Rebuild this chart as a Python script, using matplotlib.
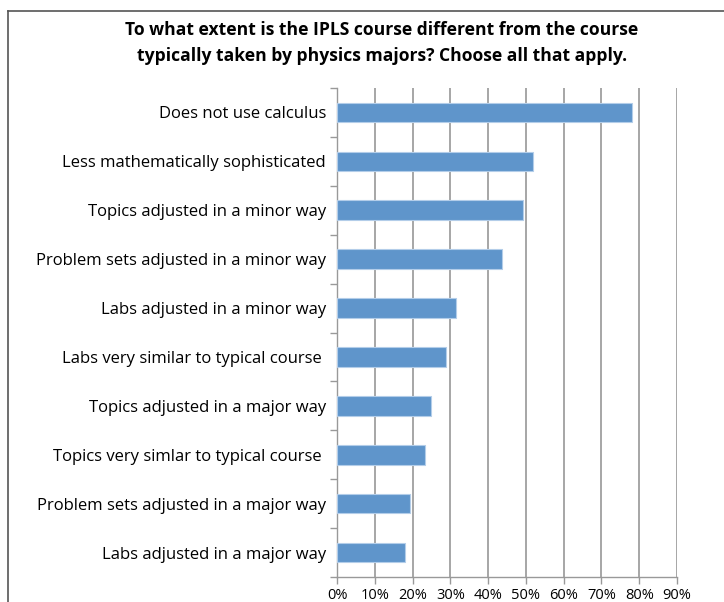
import matplotlib
matplotlib.use("Agg")
import matplotlib.pyplot as plt
from matplotlib.lines import Line2D
from matplotlib.ticker import FixedLocator, PercentFormatter

categories = [
    "Does not use calculus",
    "Less mathematically sophisticated",
    "Topics adjusted in a minor way",
    "Problem sets adjusted in a minor way",
    "Labs adjusted in a minor way",
    "Labs very similar to typical course ",
    "Topics adjusted in a major way",
    "Topics very simlar to typical course ",
    "Problem sets adjusted in a major way",
    "Labs adjusted in a major way",
]
values = [78.1, 52.0, 49.3, 43.8, 31.6, 28.8, 24.8, 23.4, 19.4, 17.9]
xticks = [0, 10, 20, 30, 40, 50, 60, 70, 80, 90]
title = "To what extent is the IPLS course different from the course\ntypically taken by physics majors? Choose all that apply."

plt.rcParams['font.family'] = ['Open Sans', 'DejaVu Sans']

W, H = 724, 602
fig = plt.figure(figsize=(W / 100, H / 100), dpi=100)
ax = fig.add_axes([337 / W, 1 - 577 / H, (677 - 337) / W, (577 - 88) / H])

n = len(categories)
ypos = list(range(n))
ax.barh(ypos, values, height=0.4, color="#5f95cb", edgecolor="#b3cde9", linewidth=0.8, zorder=3)
ax.set_ylim(n - 0.5, -0.5)
ax.set_xlim(0, 90)
ax.set_yticks(ypos)
ax.set_yticklabels(categories, fontsize=12)
ax.yaxis.set_minor_locator(FixedLocator([i - 0.5 for i in range(n + 1)]))
ax.tick_params(axis="y", which="major", length=0, pad=8)
ax.tick_params(axis="y", which="minor", length=5, width=1, color="#999999")
ax.set_xticks(xticks)
ax.xaxis.set_major_formatter(PercentFormatter(decimals=0))
ax.tick_params(axis="x", length=5, width=1, color="#999999", labelsize=10.5, pad=3)
ax.grid(axis="x", color="#a6a6a6", linewidth=1.4, zorder=0)
for s in ["top", "right"]:
    ax.spines[s].set_visible(False)
for s in ["left", "bottom"]:
    ax.spines[s].set_color("#999999")
    ax.spines[s].set_linewidth(1)

fig.text(382 / W, 1 - 43 / H, title, ha="center", va="center", fontsize=12.6,
         fontweight="bold", linespacing=1.6)

fig.add_artist(Line2D([7.5 / W, 7.5 / W], [0, 1 - 11 / H], color="#555555", linewidth=1.2, transform=fig.transFigure))
fig.add_artist(Line2D([7.5 / W, 1], [1 - 11 / H, 1 - 11 / H], color="#555555", linewidth=1.2, transform=fig.transFigure))

fig.savefig("out.png", dpi=100)
